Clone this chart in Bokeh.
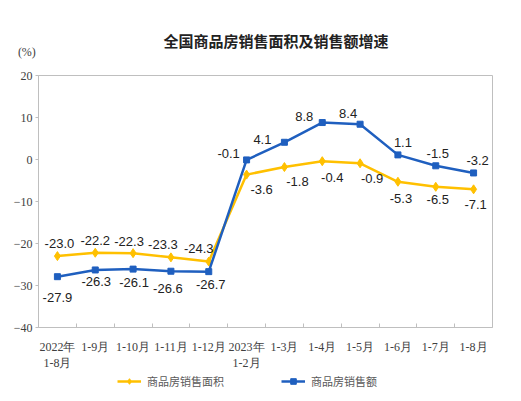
from bokeh.plotting import figure
from bokeh.layouts import column
from bokeh.models import (ColumnDataSource, Range1d, FixedTicker, LinearAxis,
                          Legend, LegendItem)
from bokeh.embed import file_html
from bokeh.resources import INLINE

months = ["2022年\n1-8月", "1-9月", "1-10月", "1-11月", "1-12月", "2023年\n1-2月",
          "1-3月", "1-4月", "1-5月", "1-6月", "1-7月", "1-8月"]
area = [-23.0, -22.2, -22.3, -23.3, -24.3, -3.6, -1.8, -0.4, -0.9, -5.3, -6.5, -7.1]
amount = [-27.9, -26.3, -26.1, -26.6, -26.7, -0.1, 4.1, 8.8, 8.4, 1.1, -1.5, -3.2]
y_ticks = [-40, -30, -20, -10, 0, 10, 20]

# label offsets in pixels (dy positive = down)
area_dx = [2, 0, -4, -8, -10, 15, 13, 10, 12, 3, 2, 2]
area_dy = [-13, -12, -12, -13, -13, 15, 14, 16, 15, 17, 13, 15]
amt_dx = [0, 1, 1, -3, 2, -18, -22, -18, -12, 5, 2, 4]
amt_dy = [21, 12, 13, 17, 13, -6, -3, -6, -11, -12, -12, -12]

YELLOW = "#FFC000"
BLUE = "#1F5FBF"

xs = list(range(len(months)))
src = ColumnDataSource(data=dict(
    x=xs, area=area, amount=amount,
    area_lbl=[f"{v:.1f}" for v in area],
    amt_lbl=[f"{v:.1f}" for v in amount],
    area_dx=area_dx, area_dy=area_dy, amt_dx=amt_dx, amt_dy=amt_dy,
))

chart = figure(frame_width=454, frame_height=252, output_backend="svg",
               toolbar_location=None,
               x_range=Range1d(-0.5, 11.5), y_range=Range1d(-40, 20),
               min_border_left=38, min_border_right=21,
               min_border_top=75, min_border_bottom=48)
chart.grid.visible = False
chart.outline_line_color = "#BFBFBF"
chart.background_fill_color = "white"
chart.border_fill_color = "white"

# x axis
xa = chart.below[0]
xa.ticker = FixedTicker(ticks=xs, minor_ticks=[i + 0.5 for i in xs[:-1]])
xa.major_label_overrides = {i: m for i, m in enumerate(months)}
xa.major_tick_line_color = None
xa.minor_tick_in = 4
xa.minor_tick_out = 0
xa.minor_tick_line_color = "#BFBFBF"
xa.axis_line_color = "#BFBFBF"
xa.major_label_text_font = "Liberation Serif"
xa.major_label_text_font_size = "12px"
xa.major_label_text_color = "#404040"
xa.major_label_standoff = 6

# y axis
ya = chart.left[0]
ya.ticker = FixedTicker(ticks=y_ticks)
ya.minor_tick_line_color = None
ya.major_tick_in = 0
ya.major_tick_out = 3
ya.major_tick_line_color = "#BFBFBF"
ya.axis_line_color = "#BFBFBF"
ya.major_label_text_font = "Liberation Serif"
ya.major_label_text_font_size = "12px"
ya.major_label_text_color = "#404040"
ya.major_label_standoff = 3

# "(%)" unit, drawn as the only label of an axis above the frame
unit_axis = LinearAxis(ticker=FixedTicker(ticks=[-0.49]),
                       major_label_overrides={-0.49: "(%)" + "\u00a0" * 8},
                       axis_line_color=None, major_tick_line_color=None,
                       minor_tick_line_color=None, major_label_standoff=11,
                       major_label_text_font="Liberation Serif",
                       major_label_text_font_size="12px",
                       major_label_text_color="#404040")
chart.add_layout(unit_axis, "above")

chart.title.text = "全国商品房销售面积及销售额增速"
chart.title.align = "left"
chart.title.offset = 125
chart.title.standoff = -19
chart.title.text_font = "Noto Sans CJK SC"
chart.title.text_font_size = "15px"
chart.title.text_font_style = "bold"
chart.title.text_color = "#222222"

chart.line("x", "area", source=src, color=YELLOW, line_width=2.5)
chart.scatter("x", "area", source=src, marker="diamond", size=9, color=YELLOW)
chart.line("x", "amount", source=src, color=BLUE, line_width=2.5)
chart.scatter("x", "amount", source=src, marker="square", size=6, color=BLUE)

for col, yfield, dx, dy in [("area_lbl", "area", "area_dx", "area_dy"),
                            ("amt_lbl", "amount", "amt_dx", "amt_dy")]:
    chart.text("x", yfield, text=col, source=src, x_offset=dx, y_offset=dy,
               text_align="center", text_baseline="middle",
               text_font_size="13px", text_color="#222222",
               text_font={"value": "Liberation Sans"})

# legend strip under the chart (keys only, nothing in view)
key = figure(width=513, height=22, output_backend="svg", toolbar_location=None,
             x_axis_type=None, y_axis_type=None, min_border=0,
             x_range=Range1d(0, 1), y_range=Range1d(0, 1))
key.grid.visible = False
key.outline_line_color = None
k1 = key.line([5, 6], [5, 5], color=YELLOW, line_width=2.5)
k2 = key.scatter([5], [5], marker="diamond", size=9, color=YELLOW)
k3 = key.line([5, 6], [5, 5], color=BLUE, line_width=2.5)
k4 = key.scatter([5], [5], marker="square", size=6, color=BLUE)

legend = Legend(items=[LegendItem(label="商品房销售面积", renderers=[k1, k2]),
                       LegendItem(label="商品房销售额", renderers=[k3, k4])],
                orientation="horizontal", location=(79, 8),
                padding=0, margin=0, spacing=57, glyph_width=24,
                glyph_height=14, label_height=14,
                label_standoff=6, border_line_color=None,
                background_fill_alpha=0,
                label_text_font="Noto Sans CJK SC", label_text_font_size="11px",
                label_text_color="#595959")
key.add_layout(legend, "center")

p = column(chart, key, spacing=0)

open("out.html", "w").write(file_html(p, INLINE))
